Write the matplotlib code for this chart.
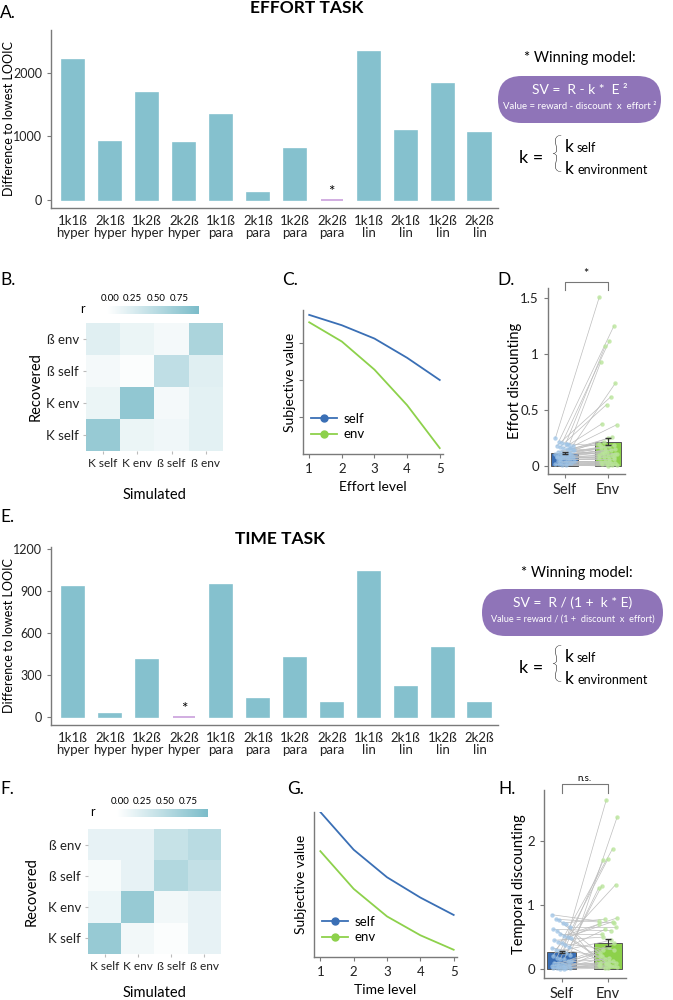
import numpy as np
import matplotlib
matplotlib.use("Agg")
import matplotlib.pyplot as plt
from matplotlib.colors import LinearSegmentedColormap
from matplotlib.patches import FancyBboxPatch
from matplotlib.lines import Line2D

plt.rcParams['font.family'] = ['Lato', 'DejaVu Sans']

# ---- data ----
models = ["1k1ß\nhyper", "2k1ß\nhyper", "1k2ß\nhyper", "2k2ß\nhyper",
          "1k1ß\npara", "2k1ß\npara", "1k2ß\npara", "2k2ß\npara",
          "1k1ß\nlin", "2k1ß\nlin", "1k2ß\nlin", "2k2ß\nlin"]
effort_looic = [2200, 915, 1675, 900, 1330, 105, 800, 0, 2320, 1090, 1820, 1060]
effort_best = 7
time_looic = [932, 21, 408, 0, 941, 134, 422, 106, 1037, 215, 495, 100]
time_best = 3

params = ["K self", "K env", "ß self", "ß env"]
rows = ["ß env", "ß self", "K env", "K self"]
corr_effort = [[0.20, 0.12, 0.05, 0.60],
               [0.05, 0.00, 0.45, 0.20],
               [0.12, 0.80, 0.05, 0.18],
               [0.75, 0.12, 0.08, 0.18]]
corr_time = [[0.15, 0.15, 0.40, 0.50],
             [0.03, 0.15, 0.55, 0.42],
             [0.10, 0.75, 0.07, 0.15],
             [0.75, 0.07, 0.00, 0.15]]

levels = [1, 2, 3, 4, 5]
sv_effort_self = [0.94, 0.87, 0.78, 0.65, 0.50]
sv_effort_env = [0.89, 0.76, 0.57, 0.33, 0.04]
sv_time_self = [1.00, 0.74, 0.55, 0.41, 0.29]
sv_time_env = [0.73, 0.47, 0.28, 0.15, 0.05]

groups = ["Self", "Env"]
d_mean = [0.12, 0.22]
d_sem = [0.01, 0.03]
d_self = [0.25, 0.22, 0.21, 0.20, 0.19, 0.18, 0.18, 0.17, 0.16, 0.15,
          0.15, 0.14, 0.13, 0.13, 0.12, 0.12, 0.11, 0.11, 0.10, 0.10,
          0.09, 0.09, 0.08, 0.08, 0.07, 0.07, 0.06, 0.06, 0.05, 0.05,
          0.04, 0.04, 0.03, 0.03, 0.02, 0.02, 0.01, 0.01, 0.12, 0.14,
          0.08, 0.06, 0.10, 0.20, 0.16]
d_env = [1.51, 1.25, 1.12, 1.07, 0.93, 0.74, 0.62, 0.55, 0.38, 0.37,
         0.26, 0.25, 0.22, 0.20, 0.19, 0.18, 0.17, 0.16, 0.15, 0.14,
         0.13, 0.12, 0.11, 0.10, 0.09, 0.08, 0.07, 0.06, 0.05, 0.05,
         0.04, 0.03, 0.03, 0.02, 0.02, 0.01, 0.01, 0.00, 0.12, 0.10,
         0.08, 0.06, 0.14, 0.18, 0.11]
h_mean = [0.265, 0.415]
h_sem = [0.02, 0.06]
h_self = [0.85, 0.78, 0.76, 0.72, 0.70, 0.65, 0.62, 0.60, 0.55, 0.52,
          0.50, 0.48, 0.45, 0.42, 0.40, 0.38, 0.35, 0.33, 0.30, 0.28,
          0.26, 0.25, 0.22, 0.20, 0.18, 0.16, 0.15, 0.13, 0.12, 0.10,
          0.09, 0.08, 0.07, 0.06, 0.05, 0.05, 0.04, 0.03, 0.02, 0.02,
          0.01, 0.01, 0.00, 0.00]
h_env = [0.75, 0.72, 0.12, 0.78, 0.05, 0.65, 0.60, 0.10, 0.55, 0.80,
         0.74, 0.08, 0.50, 0.70, 0.30, 0.06, 0.62, 0.20, 1.32, 0.45,
         2.65, 1.30, 2.38, 1.88, 1.72, 1.70, 1.27, 0.40, 0.35, 0.15,
         0.25, 0.10, 0.05, 0.08, 0.20, 0.03, 0.12, 0.02, 0.30, 0.06,
         0.04, 0.18, 0.01, 0.09]

# ---- styles ----
W, H = 673, 1000
TEAL = "#85c1ce"
PURPLE = "#c9a0dc"
BOX = "#8f74b8"
BLUE = "#3a6fb5"
GREEN = "#8dd14b"
SPINE = "#7a7a7a"
cmap = LinearSegmentedColormap.from_list("wt", ["#ffffff", "#7bbcc9"])

fig = plt.figure(figsize=(W / 100, H / 100), dpi=100)


def rect(l, t, r, b):
    return [l / W, 1 - b / H, (r - l) / W, (b - t) / H]


def style(ax, size=9.5):
    for s in ["top", "right"]:
        ax.spines[s].set_visible(False)
    for s in ["left", "bottom"]:
        ax.spines[s].set_color(SPINE)
        ax.spines[s].set_linewidth(1.0)
    ax.tick_params(colors=SPINE, labelcolor="#222222", labelsize=size, length=3)


def looic_panel(box, vals, best, yticks, ylim, star_off):
    ax = fig.add_axes(rect(*box))
    x = np.arange(len(vals))
    cols = [PURPLE if i == best else TEAL for i in range(len(vals))]
    ax.bar(x, vals, width=0.6, color=cols, edgecolor=cols, linewidth=1.2)
    ax.text(best, vals[best] + star_off, "*", ha="center", va="center", fontsize=11)
    ax.set_xticks(x)
    ax.set_xticklabels(models, linespacing=1.05)
    ax.set_yticks(yticks)
    ax.set_xlim(-0.6, 11.5)
    ax.set_ylim(*ylim)
    ax.set_ylabel("Difference to lowest LOOIC", fontsize=9)
    ax.yaxis.set_label_coords((15 - box[0]) / (box[2] - box[0]), 0.5)
    style(ax)
    ax.tick_params(axis="y", labelsize=9)
    ax.tick_params(axis="x", length=0, pad=5)
    return ax


def heat_panel(box, cbox, data, ylab_x, xlab_y):
    ax = fig.add_axes(rect(*box))
    im = ax.imshow(data, cmap=cmap, vmin=-0.03, vmax=0.97, aspect="auto")
    ax.set_xticks(range(4))
    ax.set_xticklabels(params)
    ax.set_yticks(range(4))
    ax.set_yticklabels(rows)
    for s in ax.spines.values():
        s.set_visible(False)
    ax.tick_params(length=2, colors="#bbbbbb", labelcolor="#222222", labelsize=9.5, pad=3)
    ax.tick_params(axis="x", labelsize=8.6)
    ax.set_xlabel("Simulated", fontsize=10.5)
    ax.set_ylabel("Recovered", fontsize=10.5)
    w, h = box[2] - box[0], box[3] - box[1]
    ax.yaxis.set_label_coords((ylab_x - box[0]) / w, 0.5)
    ax.xaxis.set_label_coords(0.5, -(xlab_y - box[3]) / h)
    cax = fig.add_axes(rect(*cbox))
    cb = fig.colorbar(im, cax=cax, orientation="horizontal", ticks=[0, 0.25, 0.5, 0.75])
    cb.outline.set_visible(False)
    cax.xaxis.set_ticks_position("top")
    cax.tick_params(length=0, labelsize=7, pad=2)
    cax.set_xticklabels(["0.00", "0.25", "0.50", "0.75"])
    cax.text(-0.27, 0.6, "r", transform=cax.transAxes, ha="center", va="center", fontsize=9)


def sv_panel(box, self_v, env_v, xlabel, ylim, yticks):
    ax = fig.add_axes(rect(*box))
    ax.plot(levels, self_v, color=BLUE, lw=1.3)
    ax.plot(levels, env_v, color=GREEN, lw=1.3)
    ax.set_xlim(0.81, 5.1)
    ax.set_ylim(*ylim)
    ax.set_xticks(levels)
    ax.set_yticks(yticks)
    ax.set_yticklabels([])
    ax.set_xlabel(xlabel, fontsize=10)
    ax.set_ylabel("Subjective value", fontsize=10)
    w, h = box[2] - box[0], box[3] - box[1]
    ax.yaxis.set_label_coords(-7 / w, 0.5)
    ax.xaxis.set_label_coords(0.5, -27 / h)
    style(ax)
    handles = [Line2D([], [], color=BLUE, marker="o", ms=5, lw=1.3),
               Line2D([], [], color=GREEN, marker="o", ms=5, lw=1.3)]
    ax.legend(handles, ["self", "env"], loc="lower left", frameon=False, fontsize=9.5,
              handlelength=2.0, handletextpad=0.5, borderaxespad=0.2, labelspacing=0.25,
              bbox_to_anchor=(0.0, 0.04))
    return ax


def paired_panel(box, means, sems, sv, ev, ylabel, ylim, yticks, yticklabels, sig, br, ylab_x):
    ax = fig.add_axes(rect(*box))
    ax.bar([0, 1], means, width=0.615, color=[BLUE, GREEN], edgecolor="#555555",
           linewidth=0.7, zorder=1)
    n = len(sv)
    idx = np.arange(n)
    jit_s = ((idx * 37) % 17 / 16 - 0.5) * 0.42
    jit_e = 1 + ((idx * 23) % 13 / 12 - 0.5) * 0.4
    for i in range(n):
        ax.plot([jit_s[i], jit_e[i]], [sv[i], ev[i]], color="#bdbdbd", lw=0.5, zorder=2)
    ax.scatter(jit_s, sv, s=10, color="#9dc3e6", alpha=0.75, lw=0, zorder=3)
    ax.scatter(jit_e, ev, s=10, color="#b9e59a", alpha=0.8, lw=0, zorder=3)
    ax.errorbar([0, 1], means, yerr=sems, fmt="none", ecolor="#333333", elinewidth=0.8,
                capsize=2, zorder=4)
    ax.set_xlim(-0.38, 1.39)
    ax.set_ylim(*ylim)
    ax.set_xticks([0, 1])
    ax.set_xticklabels(groups)
    ax.set_yticks(yticks)
    ax.set_yticklabels(yticklabels)
    ax.set_ylabel(ylabel, fontsize=10.5)
    ax.yaxis.set_label_coords((ylab_x - box[0]) / (box[2] - box[0]), 0.5)
    style(ax, 9.5)
    ax.tick_params(axis="x", labelsize=10.5)
    top, bot, txt_y = br
    ax.plot([0, 0, 1, 1], [bot, top, top, bot], color="#777777", lw=0.8, clip_on=False)
    ax.text(0.5, txt_y, sig, ha="center", va="bottom", fontsize=7 if sig != "*" else 9,
            clip_on=False)
    return ax


# ---- panels ----
looic_panel((51, 30, 498, 208), effort_looic, effort_best, [0, 1000, 2000], (-125, 2670), 130)
looic_panel((51, 547, 498, 725), time_looic, time_best, [0, 300, 600, 900, 1200], (-54, 1214), 62)

heat_panel((86, 323, 223, 451), (107, 306, 199, 314), corr_effort, 43, 488)
heat_panel((88, 829, 221, 954), (117, 809, 208, 817), corr_time, 39, 986)

sv_panel((303, 310, 443, 454), sv_effort_self, sv_effort_env, "Effort level", (0, 0.973), [0.25, 0.5, 0.75])
sv_panel((314, 812, 457, 957), sv_time_self, sv_time_env, "Time level", (0, 1.0), [])

paired_panel((548, 288, 625, 474), d_mean, d_sem, d_self, d_env, "Effort discounting",
             (-0.07, 1.59), [0, 0.5, 1, 1.5], ["0", "0.5", "1", "1.5"], "*",
             (1.645, 1.575, 1.66), 522)
paired_panel((544, 790, 626, 978), h_mean, h_sem, h_self, h_env, "Temporal discounting",
             (-0.14, 2.8), [0, 1, 2], ["0", "1", "2"], "n.s.", (2.9, 2.76, 2.91), 526)

# ---- annotation layer (pixel coordinates) ----
ov = fig.add_axes([0, 0, 1, 1], zorder=10)
ov.set_xlim(0, W)
ov.set_ylim(H, 0)
ov.axis("off")

for lab, x, y in [("A.", 0, 13), ("B.", 0, 280), ("C.", 282, 280), ("D.", 497, 280),
                  ("E.", 0, 517), ("F.", 0, 789), ("G.", 287, 789), ("H.", 498, 789)]:
    ov.text(x, y, lab, fontsize=12.5, ha="left", va="center")

ov.text(307, 8, "EFFORT TASK", fontsize=12.5, fontweight="bold", ha="center", va="center")
ov.text(280, 539, "TIME TASK", fontsize=12.5, fontweight="bold", ha="center", va="center")


def model_box(cx, ty, l, t, r, b, line1, line2, size2):
    ov.text(cx, ty, "* Winning model:", fontsize=10.5, ha="center", va="center")
    h = b - t
    ov.add_patch(FancyBboxPatch((l, t), r - l, h, boxstyle="round,pad=0,rounding_size=%f" % (h / 2),
                                facecolor=BOX, edgecolor="none"))
    mid = (l + r) / 2
    ov.text(mid, t + h * 0.3, line1, color="white", fontsize=10, ha="center", va="center")
    ov.text(mid, t + h * 0.64, line2, color="white", fontsize=size2, ha="center", va="center")


def k_def(y):
    ov.text(519, y, "k =", fontsize=13, ha="left", va="center")
    ov.text(550, y - 2, "{", fontsize=30, ha="left", va="center", fontweight="light")
    ov.text(565, y - 6, "k", fontsize=12.5, ha="left", va="baseline")
    ov.text(577, y - 6, "self", fontsize=9, ha="left", va="baseline")
    ov.text(565, y + 16, "k", fontsize=12.5, ha="left", va="baseline")
    ov.text(577, y + 16, "environment", fontsize=9, ha="left", va="baseline")


model_box(580, 58, 498, 76, 661, 123, "SV =  R - k *  E ²",
          "Value = reward - discount  x  effort ²", 6.9)
k_def(158)
model_box(577, 573, 482, 589, 663, 636, "SV =  R / (1 +  k * E)",
          "Value = reward / (1 +  discount  x  effort)", 6.6)
k_def(668)

fig.savefig("out.png", dpi=100)
